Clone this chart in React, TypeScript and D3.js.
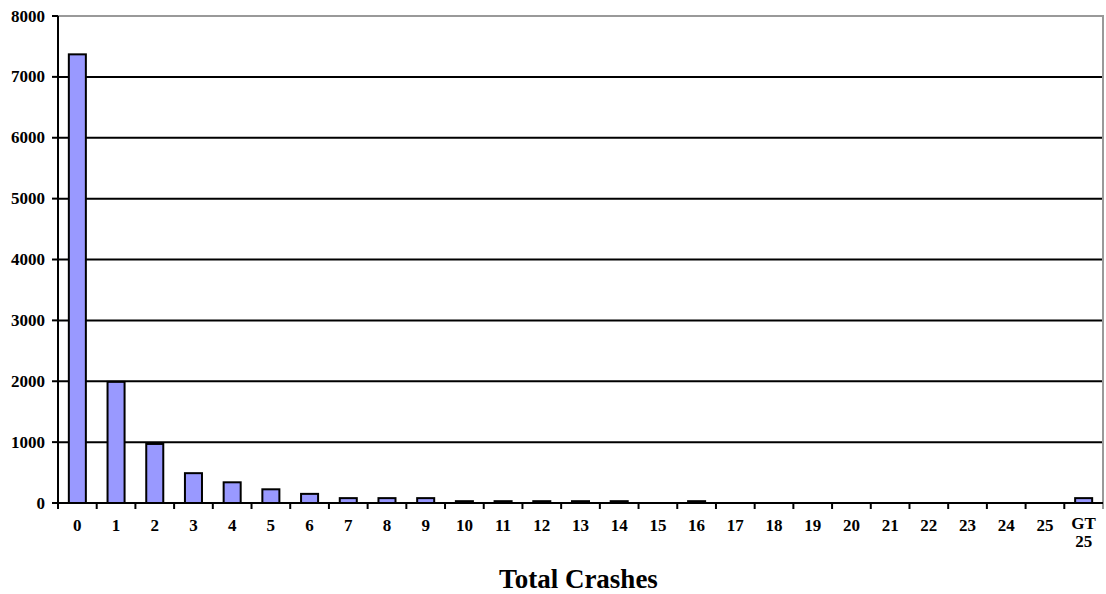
import React from "react";
import * as d3 from "d3";

const categories: string[] = [
  "0", "1", "2", "3", "4", "5", "6", "7", "8", "9", "10", "11", "12", "13",
  "14", "15", "16", "17", "18", "19", "20", "21", "22", "23", "24", "25", "GT 25",
];
const crashCounts: number[] = [
  7370, 1990, 970, 490, 340, 225, 150, 80, 80, 80, 30, 30, 30, 30,
  30, 0, 30, 0, 0, 0, 0, 0, 0, 0, 0, 0, 80,
];
const yTicks: number[] = [0, 1000, 2000, 3000, 4000, 5000, 6000, 7000, 8000];
const xTitle = "Total Crashes";

const W = 1106;
const H = 594;
const left = 58;
const right = 1103;
const top = 16;
const bottom = 503;
const font = "'Liberation Serif', 'Times New Roman', serif";

export default function App() {
  const x = d3
    .scaleBand<string>()
    .domain(categories)
    .range([left, right])
    .paddingInner(0.56)
    .paddingOuter(0.28);
  const y = d3.scaleLinear().domain([0, 8000]).range([bottom, top]);
  const step = x.step();
  const boundaries = d3.range(categories.length + 1).map((i) => left + i * step);

  return (
    <svg
      width={W}
      height={H}
      style={{ position: "absolute", left: 0, top: 0, background: "#fff" }}
      fontFamily={font}
    >
      {/* gridlines */}
      {yTicks
        .filter((t) => t > 0 && t < 8000)
        .map((t) => (
          <line key={"g" + t} x1={left} x2={right} y1={y(t)} y2={y(t)} stroke="#000" strokeWidth={2} />
        ))}
      {/* top & right border */}
      <line x1={left} x2={right + 1} y1={y(8000)} y2={y(8000)} stroke="#999" strokeWidth={2} />
      <line x1={right} x2={right} y1={top} y2={bottom + 6} stroke="#999" strokeWidth={2} />
      {/* bars */}
      {categories.map((c, i) => {
        const v = crashCounts[i];
        if (v <= 0) return null;
        return (
          <rect
            key={"b" + c}
            x={x(c)}
            y={y(v)}
            width={x.bandwidth()}
            height={bottom - y(v)}
            fill="#9999FF"
            stroke="#000"
            strokeWidth={2}
          />
        );
      })}
      {/* axes */}
      <line x1={left} x2={left} y1={top} y2={bottom + 6} stroke="#000" strokeWidth={2} />
      <line x1={left - 6} x2={right} y1={bottom} y2={bottom} stroke="#000" strokeWidth={2} />
      {yTicks.map((t) => (
        <g key={"yt" + t}>
          <line x1={left - 6} x2={left} y1={y(t)} y2={y(t)} stroke="#000" strokeWidth={2} />
          <text
            x={45}
            y={y(t)}
            textAnchor="end"
            dominantBaseline="central"
            fontSize={17}
            fontWeight="bold"
          >
            {t}
          </text>
        </g>
      ))}
      {boundaries.slice(1, -1).map((bx, i) => (
        <line key={"xt" + i} x1={bx} x2={bx} y1={bottom} y2={bottom + 6} stroke="#000" strokeWidth={2} />
      ))}
      {categories.map((c) => {
        const cx = (x(c) as number) + x.bandwidth() / 2;
        const parts = c.split(" ");
        return (
          <g key={"xl" + c}>
            {parts.map((p, j) => (
              <text
                key={j}
                x={cx}
                y={(parts.length > 1 ? 529 : 531) + j * 18}
                textAnchor="middle"
                fontSize={17}
                fontWeight="bold"
              >
                {p}
              </text>
            ))}
          </g>
        );
      })}
      <text x={(left + right) / 2 - 2} y={588} textAnchor="middle" fontSize={27} fontWeight="bold">
        {xTitle}
      </text>
    </svg>
  );
}
